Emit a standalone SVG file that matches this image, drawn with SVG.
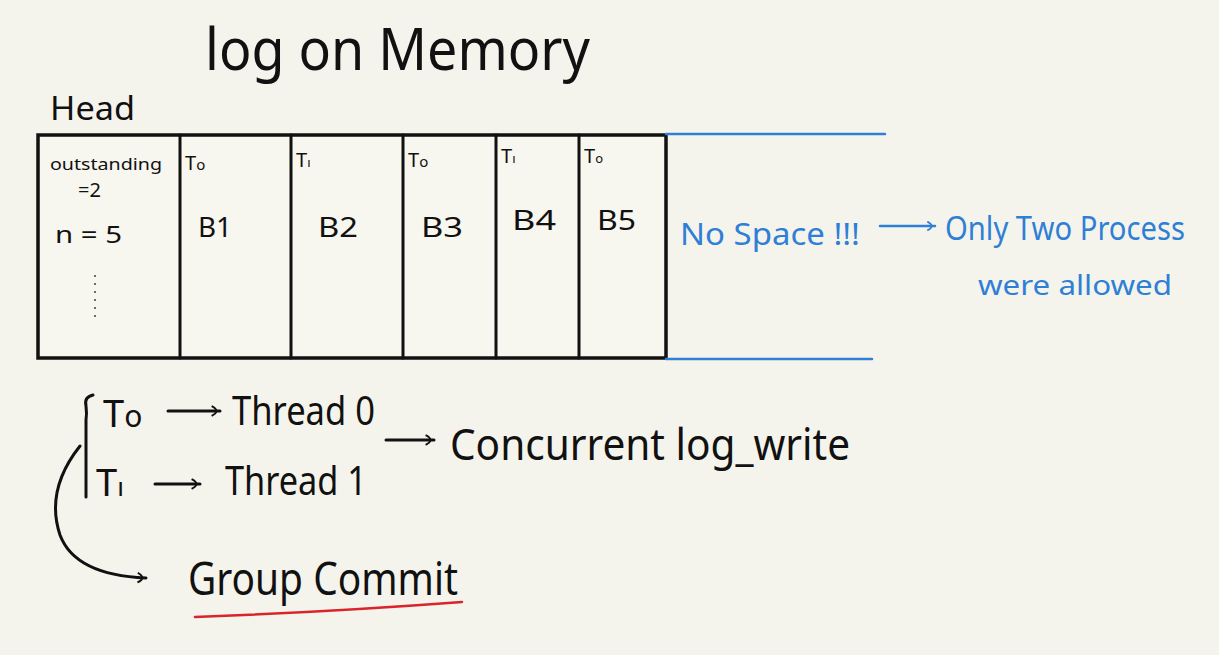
<svg xmlns="http://www.w3.org/2000/svg" width="1219" height="655" viewBox="0 0 1219 655">
<style>
.k{fill:#111;font-family:"Noto Sans","Liberation Sans",sans-serif}
.b{fill:#2f7fd6;font-family:"Noto Sans","Liberation Sans",sans-serif}
.ln{stroke:#111;stroke-width:3;fill:none;stroke-linecap:round}
.bl{stroke:#2f7fd6;stroke-width:2.5;fill:none;stroke-linecap:round}
</style>
<defs>
<marker id="ah" viewBox="0 0 10 10" refX="8" refY="5" markerWidth="12" markerHeight="12" orient="auto" markerUnits="userSpaceOnUse">
<path d="M1,1 Q9,5 1,9" fill="none" stroke="#111" stroke-width="1.6"/>
</marker>
<marker id="ahb" viewBox="0 0 10 10" refX="8" refY="5" markerWidth="11" markerHeight="11" orient="auto" markerUnits="userSpaceOnUse">
<path d="M1,1 Q9,5 1,9" fill="none" stroke="#2f7fd6" stroke-width="1.6"/>
</marker>
</defs>
<rect width="1219" height="655" fill="#f5f4ec"/>
<g id="title"><text class="k" x="205" y="70" font-size="58" textLength="385" lengthAdjust="spacingAndGlyphs">log on Memory</text></g>
<g id="head"><text class="k" x="50" y="120" font-size="32" textLength="85" lengthAdjust="spacingAndGlyphs">Head</text></g>
<g id="log">
<rect x="38" y="135" width="628" height="223" fill="#f7f6ef" stroke="#111" stroke-width="3.5"/>
<path class="ln" d="M180,135V358M291,135V358M403,135V358M496,135V358M579,135V358"/>
</g>
<g id="cell0">
<text class="k" x="50" y="170" font-size="17" textLength="112" lengthAdjust="spacingAndGlyphs">outstanding</text>
<text class="k" x="78" y="197" font-size="20">=2</text>
<text class="k" x="55" y="243" font-size="24" textLength="67" lengthAdjust="spacingAndGlyphs">n = 5</text>
<path d="M95,275V322" stroke="#111" stroke-width="1.2" stroke-dasharray="2,6" fill="none"/>
</g>
<g id="cell1"><text class="k" x="185" y="170" font-size="20">T<tspan font-size="15">o</tspan></text><text class="k" x="198" y="237" font-size="28" textLength="34" lengthAdjust="spacingAndGlyphs">B1</text></g>
<g id="cell2"><text class="k" x="296" y="167" font-size="20">T<tspan font-size="13">ı</tspan></text><text class="k" x="318" y="237" font-size="28" textLength="40" lengthAdjust="spacingAndGlyphs">B2</text></g>
<g id="cell3"><text class="k" x="408" y="167" font-size="20">T<tspan font-size="15">o</tspan></text><text class="k" x="421" y="237" font-size="28" textLength="42" lengthAdjust="spacingAndGlyphs">B3</text></g>
<g id="cell4"><text class="k" x="501" y="163" font-size="20">T<tspan font-size="13">ı</tspan></text><text class="k" x="512" y="230" font-size="28" textLength="44" lengthAdjust="spacingAndGlyphs">B4</text></g>
<g id="cell5"><text class="k" x="584" y="163" font-size="20">T<tspan font-size="13">o</tspan></text><text class="k" x="597" y="230" font-size="28" textLength="39" lengthAdjust="spacingAndGlyphs">B5</text></g>
<g id="nospace">
<path class="bl" d="M666,134H885M666,359H872"/>
<text class="b" x="680" y="245" font-size="30" textLength="180" lengthAdjust="spacingAndGlyphs">No Space !!!</text>
</g>
<g id="only"><text class="b" x="945" y="240" font-size="32" textLength="240" lengthAdjust="spacingAndGlyphs">Only Two Process</text><text class="b" x="978" y="295" font-size="28" textLength="194" lengthAdjust="spacingAndGlyphs">were allowed</text></g>
<g id="threads">
<path class="ln" d="M93,395Q84,397 86,406Q87,414 86,420V497"/>
<text class="k" x="103" y="427" font-size="38">T<tspan font-size="30">o</tspan></text>
<text class="k" x="232" y="425" font-size="40" textLength="143" lengthAdjust="spacingAndGlyphs">Thread 0</text>
<text class="k" x="96" y="496" font-size="38">T<tspan font-size="26">ı</tspan></text>
<text class="k" x="225" y="495" font-size="40" textLength="142" lengthAdjust="spacingAndGlyphs">Thread 1</text>
</g>
<g id="concurrent"><text class="k" x="450" y="460" font-size="44" textLength="400" lengthAdjust="spacingAndGlyphs">Concurrent log_write</text></g>
<g id="group"><text class="k" x="188" y="595" font-size="46" textLength="270" lengthAdjust="spacingAndGlyphs">Group Commit</text>
<path d="M195,617Q330,612 462,602" stroke="#d8242a" stroke-width="2.5" fill="none" stroke-linecap="round"/></g>
<g id="connectors">
<path class="ln" d="M168,411H220" marker-end="url(#ah)"/>
<path class="ln" d="M155,484H200" marker-end="url(#ah)"/>
<path class="ln" d="M386,440H434" marker-end="url(#ah)"/>
<path class="ln" d="M80,446Q45,490 60,535Q75,575 146,578" marker-end="url(#ah)"/>
<path class="bl" d="M880,226H935" marker-end="url(#ahb)"/>
</g>
</svg>
